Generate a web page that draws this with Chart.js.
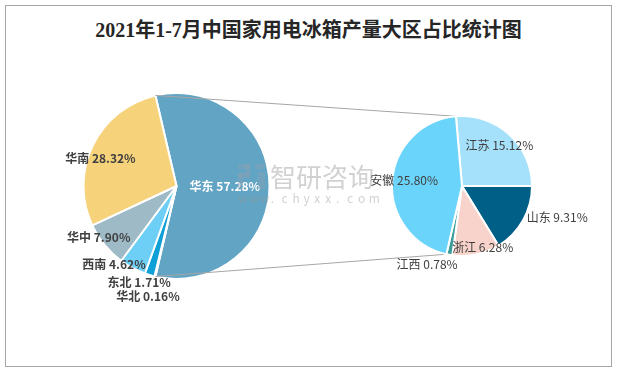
<!DOCTYPE html>
<html>
<head>
<meta charset="utf-8">
<script src="https://cdn.jsdelivr.net/npm/chart.js@4"></script>
<style>
  body { margin: 0; background: #fff; }
  #wrap { position: relative; width: 617px; height: 372px; }
  #frame { position: absolute; left: 5px; top: 5px; width: 605px; height: 360px; border: 1px solid #a6a6a6; }
  #title { position: absolute; left: 0; top: 14px; width: 617px; text-align: center;
    font: bold 20px "Liberation Serif", "Noto Sans CJK SC", serif; color: #262626; }
  canvas { position: absolute; left: 0; top: 0; }
</style>
</head>
<body>
<div id="wrap">
  <div id="frame"></div>
  <div id="title">2021年1-7月中国家用电冰箱产量大区占比统计图</div>
  <canvas id="leftPie" width="617" height="372"></canvas>
  <canvas id="rightPie" width="617" height="372"></canvas>
</div>
<script>
// regions (the first one is split into provinces on the right)
const regions = ["华东", "华北", "东北", "西南", "华中", "华南"];
const regionShare = [57.28, 0.16, 1.71, 4.62, 7.90, 28.32];
const regionColors = ["#62a4c4", "#2f6e8e", "#0fa0d8", "#6ecff6", "#9dbac6", "#f6d27a"];

const provinces = ["江苏", "山东", "浙江", "江西", "安徽"];
const provinceShare = [15.12, 9.31, 6.28, 0.78, 25.80];
const provinceColors = ["#a5e1fa", "#005f87", "#f8d3cb", "#3c9c99", "#6ad4fb"];

// label placement: radius factor and angle shift (deg)
const regionLabelR = [0.52, 1.23, 1.11, 1.075, 1.0, 0.87];
const regionLabelA = [0, 1, 4.4, 10.5, 6, -6];
const provinceLabelR = [0.79, 1.43, 0.92, 1.22, 0.83];
const provinceLabelA = [0, -11.2, -7, 13.7, 2];

const FONT = '"Noto Sans CJK SC", "Noto Sans", sans-serif';

function labelPlugin(names, values, rf, af, font, colorFn) {
  return {
    id: "sliceLabels",
    afterDatasetsDraw(chart) {
      const ctx = chart.ctx;
      const arcs = chart.getDatasetMeta(0).data;
      ctx.save();
      ctx.font = font;
      ctx.textAlign = "center";
      ctx.textBaseline = "middle";
      arcs.forEach((arc, i) => {
        const p = arc.getProps(["x", "y", "startAngle", "endAngle", "outerRadius"], true);
        const a = (p.startAngle + p.endAngle) / 2 + af[i] * Math.PI / 180;
        const r = p.outerRadius * rf[i];
        ctx.fillStyle = colorFn(i);
        ctx.fillText(names[i] + " " + values[i].toFixed(2) + "%", p.x + Math.cos(a) * r, p.y + Math.sin(a) * r);
      });
      ctx.restore();
    }
  };
}

// split slice is centred on the right side
const leftRotation = 90 - regionShare[0] * 3.6 / 2;

const leftChart = new Chart(document.getElementById("leftPie"), {
  type: "pie",
  data: {
    labels: regions,
    datasets: [{
      data: regionShare,
      backgroundColor: regionColors,
      borderColor: "#ffffff",
      borderWidth: 2
    }]
  },
  options: {
    responsive: false,
    animation: false,
    rotation: leftRotation,
    layout: { padding: { left: 82, right: 346, top: 92, bottom: 92 } },
    plugins: { legend: { display: false }, tooltip: { enabled: false } }
  },
  plugins: [labelPlugin(regions, regionShare, regionLabelR, regionLabelA,
    "bold 12px " + FONT, i => (i === 0 ? "#ffffff" : "#404040"))]
});

const connectorPlugin = {
  id: "connectors",
  beforeDatasetsDraw(chart) {
    const big = leftChart.getDatasetMeta(0).data[0].getProps(["x", "y", "startAngle", "endAngle", "outerRadius"], true);
    const small = chart.getDatasetMeta(0).data;
    const first = small[0].getProps(["x", "y", "startAngle", "outerRadius"], true);
    const last = small[small.length - 1].getProps(["x", "y", "startAngle", "outerRadius"], true);
    const pt = (p, a) => [p.x + Math.cos(a) * p.outerRadius, p.y + Math.sin(a) * p.outerRadius];
    const ctx = chart.ctx;
    ctx.save();
    ctx.strokeStyle = "#a6a6a6";
    ctx.lineWidth = 1;
    ctx.beginPath();
    let a = pt(big, big.startAngle), b = pt(first, first.startAngle);
    ctx.moveTo(a[0], a[1]); ctx.lineTo(b[0], b[1]);
    a = pt(big, big.endAngle); b = pt(last, last.startAngle);
    ctx.moveTo(a[0], a[1]); ctx.lineTo(b[0], b[1]);
    ctx.stroke();
    ctx.restore();
  },
  afterDraw(chart) {
    // watermark
    const ctx = chart.ctx;
    ctx.save();
    ctx.globalAlpha = 0.45;
    ctx.fillStyle = "#9a9a9a";
    ctx.font = "26px " + FONT;
    ctx.textAlign = "left";
    ctx.textBaseline = "middle";
    ctx.fillText("智研咨询", 270, 177);
    ctx.font = "12px " + FONT;
    const site = "www.chyxx.com";
    for (let i = 0; i < site.length; i++) ctx.fillText(site[i], 238 + i * 10.9, 198);
    ctx.fillStyle = "#8aa2b4";
    ctx.fillRect(238, 164, 12, 5);
    ctx.fillRect(245, 164, 5, 12);
    ctx.fillRect(238, 173, 12, 5);
    ctx.fillRect(238, 173, 5, 16);
    ctx.fillRect(255, 164, 10, 5);
    ctx.fillRect(258, 172, 7, 17);
    ctx.restore();
  }
};

new Chart(document.getElementById("rightPie"), {
  type: "pie",
  data: {
    labels: provinces,
    datasets: [{
      data: provinceShare,
      backgroundColor: provinceColors,
      borderColor: "#ffffff",
      borderWidth: 2
    }]
  },
  options: {
    responsive: false,
    animation: false,
    rotation: -5,
    layout: { padding: { left: 391, right: 84, top: 115, bottom: 115 } },
    plugins: { legend: { display: false }, tooltip: { enabled: false } }
  },
  plugins: [connectorPlugin, labelPlugin(provinces, provinceShare, provinceLabelR, provinceLabelA,
    "12px " + FONT, () => "#404040")]
});
</script>
</body>
</html>
